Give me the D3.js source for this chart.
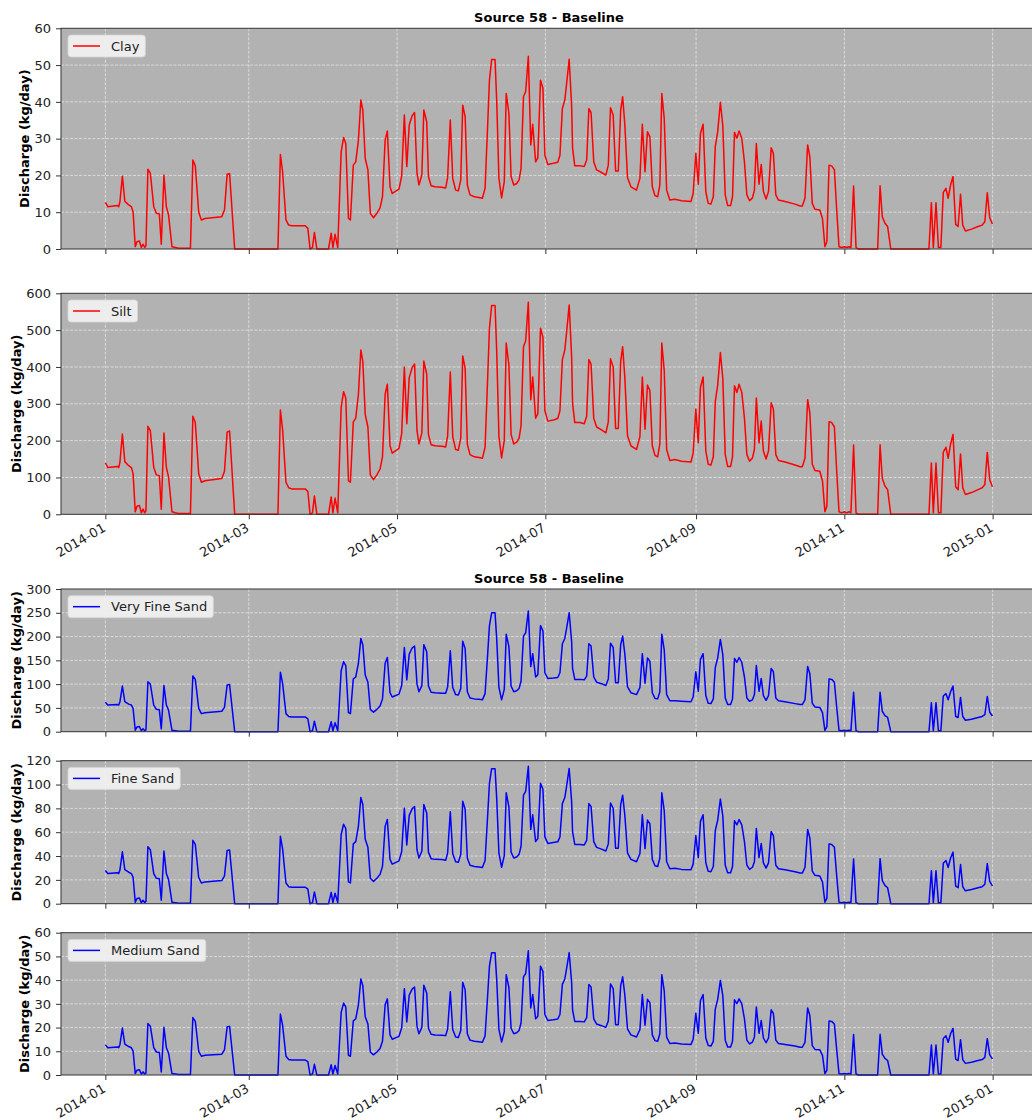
<!DOCTYPE html>
<html>
<head>
<meta charset="utf-8">
<script src="https://cdn.jsdelivr.net/npm/d3@7"></script>
<style>
  body { margin: 0; background: #fff; }
  svg { display: block; font-family: "DejaVu Sans", sans-serif; }
</style>
</head>
<body>
<div id="chart"></div>
<script>
// days since 2014-01-01 for each vertex of the series
var days = [
  0,1,5,5.5,6,7,8,9.6,10.7,11.4,
  12.3,13,14,14.8,15.5,16.2,16.7,17.5,18.5,19.9,
  21,22.2,23,24.1,25.1,26,27.4,28.8,30.1,35,
  36,37,38.4,39.5,41,47.9,49,50.1,51.1,53.2,
  71,72,72.9,74.3,75.4,76.7,82.2,83.3,84.2,85.2,
  86,87,91.8,92.9,93.6,94.5,95.6,97,98,98.9,
  100,100.8,102,103,104.1,105.1,105.9,106.9,108,109,
  110.3,111.7,113,114,115.1,116,117.1,118,120.8,121.9,
  123,124,125,126.2,127.2,128.2,129,130.2,131,132.2,
  132.9,134,135.6,138.4,140,140.8,141.9,142.9,144.1,145.2,
  146.2,147,148,148.9,150,151.8,153.7,155.1,156.2,157.1,
  158,158.9,160.3,161,161.9,163,164.1,164.9,166,166.9,
  168,169.2,170.2,171,172,172.9,174,175,175.8,177,
  177.9,179,180,180.8,182,184.3,186.1,187,188,189,
  189.7,190.8,191.8,192.2,193.1,195.2,197,198,198.9,199.8,
  200.9,202.1,204.1,205.9,206.9,207.8,208.9,209.9,211,212,
  212.8,213.7,214.8,216.2,218.5,219.9,220.9,222,223,224,
  225,226.1,227.2,228.1,228.9,229.9,230.9,232.2,234.3,237,
  240.9,241.8,242.9,243.9,244.8,245.9,247,248,249.1,250.1,
  250.9,251.9,253,254,255,256,257.2,258,258.8,259.8,
  260.7,261.8,262.9,263.9,265,266.2,267,267.8,268.9,269.8,
  270.7,271.8,272.8,273.9,274.8,275.8,276.9,279.6,283.7,285.8,
  286.7,287.8,288.9,289.8,290.8,291.9,293.9,295,296,296.8,
  297.7,298.8,299.9,300.8,301.8,302.9,304,304.9,305.9,306.7,
  307.8,308.8,309.8,317.7,318.7,319.6,320.7,321.8,323.1,338.8,
  339.8,340.6,341.7,342.7,343.7,344.7,345.8,346.7,347.7,348.7,
  349.8,350.8,351.8,352.7,353.8,356.3,359,360.7,361.8,362.8,
  363.8,364.9
];

var clay = [
  12.7,11.5,11.8,11.5,12.9,19.8,13.0,12.0,11.5,10.1,
  0.6,2.0,2.2,0.4,1.3,0.4,0.9,21.7,20.6,11.5,
  9.7,9.5,1.3,20.1,11.5,9.2,0.6,0.4,0.2,0.2,
  24.2,22.6,10.0,7.9,8.3,8.8,10.6,20.3,20.5,0,
  0,25.7,21.0,7.9,6.5,6.3,6.3,5.6,0,0.4,
  4.5,0,0,4.3,0.4,4.0,0.4,26.4,30.3,28.7,
  8.3,7.9,22.8,23.7,29.6,40.5,37.8,24.6,21.5,9.7,
  8.5,9.7,11.2,14.2,29.6,32.1,16.9,15.1,16.3,19.9,
  36.4,22.4,33.7,36.2,37.1,20.6,17.4,20.1,37.8,34.6,
  19.7,17.2,16.9,16.8,16.6,19.4,35.1,19.2,16.0,15.8,
  18.8,39.1,36.0,17.4,14.7,14.2,14.0,13.8,16.5,31.0,
  45.9,51.5,51.5,40.0,19.2,13.9,18.3,42.3,36.9,19.7,
  17.4,17.8,18.8,21.9,41.4,42.8,52.4,28.3,33.9,23.7,
  24.8,45.9,43.7,25.5,23.0,23.3,23.6,25.5,38.2,40.5,
  44.6,51.6,39.1,27.4,22.6,22.6,22.4,24.2,38.2,37.1,
  23.7,21.5,20.8,20.1,22.8,38.4,36.4,21.2,21.2,37.8,
  41.4,33.7,19.4,16.9,16.0,19.2,33.9,21.0,31.9,30.5,
  16.9,14.5,14.2,17.4,42.3,35.5,16.0,13.3,13.5,13.1,
  12.9,15.1,26.0,17.6,31.4,33.9,15.6,12.4,12.2,14.2,
  27.8,31.9,39.9,33.5,14.7,11.8,11.8,14.2,31.7,30.1,
  32.1,30.1,23.7,14.7,13.1,13.9,16.0,28.7,17.6,23.0,
  15.6,13.6,15.6,27.5,26.0,14.7,13.3,12.9,12.2,11.7,
  11.7,13.8,28.3,25.1,12.4,10.8,10.6,8.3,0.6,2.0,
  22.8,22.6,21.5,11.2,0.6,0.4,0.6,0.4,0.6,0.4,
  17.1,0.4,0,0,17.2,8.8,7.0,6.1,0,0,
  12.6,0.4,12.6,0.4,0.4,15.4,16.5,13.8,17.4,19.7,
  6.7,6.1,14.9,6.5,4.9,5.4,6.1,6.5,7.4,15.3,
  8.5,6.8
];

var silt = [
  140,127,130,127,142,218,143,132,127,111,
  7,22,24,4,14,4,10,239,227,127,
  107,105,14,221,127,101,7,4,2,2,
  266,249,110,87,91,97,117,223,226,0,
  0,283,231,87,72,69,69,62,0,4,
  50,0,0,47,4,44,4,290,333,316,
  91,87,251,261,326,446,416,271,237,107,
  94,107,123,156,326,353,186,166,179,219,
  400,246,371,398,408,227,191,221,416,381,
  217,189,186,185,183,213,386,211,176,174,
  207,430,396,191,162,156,154,152,182,341,
  505,567,567,440,211,153,201,465,406,217,
  191,196,207,241,455,471,576,311,373,261,
  273,505,481,281,253,256,260,281,420,446,
  491,568,430,301,249,249,246,266,420,408,
  261,237,229,221,251,422,400,233,233,416,
  455,371,213,186,176,211,373,231,351,336,
  186,160,156,191,465,391,176,146,149,144,
  142,166,286,194,345,373,172,136,134,156,
  306,351,439,369,162,130,130,156,349,331,
  353,331,261,162,144,153,176,316,194,253,
  172,150,172,303,286,162,146,142,134,129,
  129,152,311,276,136,119,117,91,7,22,
  251,249,237,123,7,4,7,4,7,4,
  188,4,0,0,189,97,77,67,0,0,
  139,4,139,4,4,169,182,152,191,217,
  74,67,164,72,54,59,67,72,81,168,
  94,75
];

var veryFineSand = [
  62,56,57,56,63,96,63,58,56,49,
  3,10,11,2,6,2,4,105,100,56,
  47,46,6,97,56,45,3,2,1,1,
  117,110,49,38,40,43,51,98,99,0,
  0,125,102,38,32,31,31,27,0,2,
  22,0,0,21,2,19,2,128,147,139,
  40,38,111,115,144,196,183,119,104,47,
  41,47,54,69,144,156,82,73,79,97,
  177,109,163,176,180,100,84,97,183,168,
  96,83,82,81,81,94,170,93,78,77,
  91,190,175,84,71,69,68,67,80,150,
  223,250,250,194,93,67,89,205,179,96,
  84,86,91,106,201,208,254,137,164,115,
  120,223,212,124,112,113,114,124,185,196,
  216,250,190,133,110,110,109,117,185,180,
  115,104,101,97,111,186,177,103,103,183,
  201,163,94,82,78,93,164,102,155,148,
  82,70,69,84,205,172,78,65,65,64,
  63,73,126,85,152,164,76,60,59,69,
  135,155,194,162,71,57,57,69,154,146,
  156,146,115,71,64,67,78,139,85,112,
  76,66,76,133,126,71,65,63,59,57,
  57,67,137,122,60,52,51,40,3,10,
  111,110,104,54,3,2,3,2,3,2,
  83,2,0,0,83,43,34,30,0,0,
  61,2,61,2,2,75,80,67,84,96,
  32,30,72,32,24,26,30,32,36,74,
  41,33
];

var fineSand = [
  27.9,25.3,26.0,25.3,28.4,43.6,28.6,26.4,25.3,22.2,
  1.3,4.4,4.8,0.9,2.9,0.9,2.0,47.7,45.3,25.3,
  21.3,20.9,2.9,44.2,25.3,20.2,1.3,0.9,0.4,0.4,
  53.2,49.7,22.0,17.4,18.3,19.4,23.3,44.7,45.1,0,
  0,56.5,46.2,17.4,14.3,13.9,13.9,12.3,0,0.9,
  9.9,0,0,9.5,0.9,8.8,0.9,58.1,66.7,63.1,
  18.3,17.4,50.2,52.1,65.1,89.1,83.2,54.1,47.3,21.3,
  18.7,21.3,24.6,31.2,65.1,70.6,37.2,33.2,35.9,43.8,
  80.1,49.3,74.1,79.6,81.6,45.3,38.3,44.2,83.2,76.1,
  43.3,37.8,37.2,37.0,36.5,42.7,77.2,42.2,35.2,34.8,
  41.4,86.0,79.2,38.3,32.3,31.2,30.8,30.4,36.3,68.2,
  101.0,113.3,113.3,88.0,42.2,30.6,40.3,93.1,81.2,43.3,
  38.3,39.2,41.4,48.2,91.1,94.2,115.3,62.3,74.6,52.1,
  54.6,101.0,96.1,56.1,50.6,51.3,51.9,56.1,84.0,89.1,
  98.1,113.5,86.0,60.3,49.7,49.7,49.3,53.2,84.0,81.6,
  52.1,47.3,45.8,44.2,50.2,84.5,80.1,46.6,46.6,83.2,
  91.1,74.1,42.7,37.2,35.2,42.2,74.6,46.2,70.2,67.1,
  37.2,31.9,31.2,38.3,93.1,78.1,35.2,29.3,29.7,28.8,
  28.4,33.2,57.2,38.7,69.1,74.6,34.3,27.3,26.8,31.2,
  61.2,70.2,87.8,73.7,32.3,26.0,26.0,31.2,69.7,66.2,
  70.6,66.2,52.1,32.3,28.8,30.6,35.2,63.1,38.7,50.6,
  34.3,29.9,34.3,60.5,57.2,32.3,29.3,28.4,26.8,25.7,
  25.7,30.4,62.3,55.2,27.3,23.8,23.3,18.3,1.3,4.4,
  50.2,49.7,47.3,24.6,1.3,0.9,1.3,0.9,1.3,0.9,
  37.6,0.9,0,0,37.8,19.4,15.4,13.4,0,0,
  27.7,0.9,27.7,0.9,0.9,33.9,36.3,30.4,38.3,43.3,
  14.7,13.4,32.8,14.3,10.8,11.9,13.4,14.3,16.3,33.7,
  18.7,15.0
];

var mediumSand = [
  12.7,11.5,11.8,11.5,12.9,19.8,13.0,12.0,11.5,10.1,
  0.6,2.0,2.2,0.4,1.3,0.4,0.9,21.7,20.6,11.5,
  9.7,9.5,1.3,20.1,11.5,9.2,0.6,0.4,0.2,0.2,
  24.2,22.6,10.0,7.9,8.3,8.8,10.6,20.3,20.5,0,
  0,25.7,21.0,7.9,6.5,6.3,6.3,5.6,0,0.4,
  4.5,0,0,4.3,0.4,4.0,0.4,26.4,30.3,28.7,
  8.3,7.9,22.8,23.7,29.6,40.5,37.8,24.6,21.5,9.7,
  8.5,9.7,11.2,14.2,29.6,32.1,16.9,15.1,16.3,19.9,
  36.4,22.4,33.7,36.2,37.1,20.6,17.4,20.1,37.8,34.6,
  19.7,17.2,16.9,16.8,16.6,19.4,35.1,19.2,16.0,15.8,
  18.8,39.1,36.0,17.4,14.7,14.2,14.0,13.8,16.5,31.0,
  45.9,51.5,51.5,40.0,19.2,13.9,18.3,42.3,36.9,19.7,
  17.4,17.8,18.8,21.9,41.4,42.8,52.4,28.3,33.9,23.7,
  24.8,45.9,43.7,25.5,23.0,23.3,23.6,25.5,38.2,40.5,
  44.6,51.6,39.1,27.4,22.6,22.6,22.4,24.2,38.2,37.1,
  23.7,21.5,20.8,20.1,22.8,38.4,36.4,21.2,21.2,37.8,
  41.4,33.7,19.4,16.9,16.0,19.2,33.9,21.0,31.9,30.5,
  16.9,14.5,14.2,17.4,42.3,35.5,16.0,13.3,13.5,13.1,
  12.9,15.1,26.0,17.6,31.4,33.9,15.6,12.4,12.2,14.2,
  27.8,31.9,39.9,33.5,14.7,11.8,11.8,14.2,31.7,30.1,
  32.1,30.1,23.7,14.7,13.1,13.9,16.0,28.7,17.6,23.0,
  15.6,13.6,15.6,27.5,26.0,14.7,13.3,12.9,12.2,11.7,
  11.7,13.8,28.3,25.1,12.4,10.8,10.6,8.3,0.6,2.0,
  22.8,22.6,21.5,11.2,0.6,0.4,0.6,0.4,0.6,0.4,
  17.1,0.4,0,0,17.2,8.8,7.0,6.1,0,0,
  12.6,0.4,12.6,0.4,0.4,15.4,16.5,13.8,17.4,19.7,
  6.7,6.1,14.9,6.5,4.9,5.4,6.1,6.5,7.4,15.3,
  8.5,6.8
];

var titleText = "Source 58 - Baseline";
var yLabel = "Discharge (kg/day)";

// layout of each subplot
var panels = [
  {name: "Clay",           values: clay,         color: "#ff0000", yMax: 60,  step: 10,  top: 28.3,  bottom: 249,   dates: false},
  {name: "Silt",           values: silt,         color: "#ff0000", yMax: 600, step: 100, top: 293.3, bottom: 514.3, dates: true},
  {name: "Very Fine Sand", values: veryFineSand, color: "#0000ff", yMax: 300, step: 50,  top: 589,   bottom: 731.7, dates: false},
  {name: "Fine Sand",      values: fineSand,     color: "#0000ff", yMax: 120, step: 20,  top: 760.7, bottom: 903.7, dates: false},
  {name: "Medium Sand",    values: mediumSand,   color: "#0000ff", yMax: 60,  step: 10,  top: 932.7, bottom: 1075,  dates: true}
];
var titleY = [22, 583];

panels.forEach(function(p) {
  if (p.values.length !== days.length) throw new Error(p.name + " length " + p.values.length + " vs " + days.length);
});

var W = 1032, H = 1120, left = 61, right = 1037;
var FS = 13;

var svg = d3.select("#chart").append("svg")
    .attr("width", W)
    .attr("height", H);

var t0 = Date.UTC(2014, 0, 1), DAY = 864e5;
var dates = days.map(function(d) { return new Date(t0 + d * DAY); });

var x = d3.scaleUtc()
    .domain([new Date(t0 - 18.25 * DAY), new Date(t0 + 383.25 * DAY)])
    .range([left, right]);
var xTicks = x.ticks(d3.utcMonth.every(2));

titleY.forEach(function(ty) {
  svg.append("text")
      .attr("x", (left + right) / 2)
      .attr("y", ty)
      .attr("text-anchor", "middle")
      .attr("font-size", FS)
      .attr("font-weight", "bold")
      .text(titleText);
});

panels.forEach(function(p) {
  var y = d3.scaleLinear().domain([0, p.yMax]).range([p.bottom, p.top]);
  var yTicks = d3.range(0, p.yMax + p.step / 2, p.step);
  var g = svg.append("g");

  g.append("rect")
      .attr("x", left).attr("y", p.top)
      .attr("width", right - left).attr("height", p.bottom - p.top)
      .attr("fill", "#b2b2b2");

  // grid
  g.append("g").selectAll("line").data(xTicks).join("line")
      .attr("x1", function(d) { return x(d); }).attr("x2", function(d) { return x(d); })
      .attr("y1", p.top).attr("y2", p.bottom)
      .attr("stroke", "#e4e4e4").attr("stroke-width", 0.8).attr("stroke-dasharray", "3,1.5");
  g.append("g").selectAll("line").data(yTicks.slice(1, -1)).join("line")
      .attr("x1", left).attr("x2", right)
      .attr("y1", function(d) { return y(d); }).attr("y2", function(d) { return y(d); })
      .attr("stroke", "#e4e4e4").attr("stroke-width", 0.8).attr("stroke-dasharray", "3,1.5");

  var line = d3.line()
      .x(function(d, i) { return x(dates[i]); })
      .y(function(d) { return y(d); });

  g.append("path")
      .datum(p.values)
      .attr("d", line)
      .attr("fill", "none")
      .attr("stroke", p.color)
      .attr("stroke-width", 1.5)
      .attr("stroke-linejoin", "round");

  // spines
  g.append("rect")
      .attr("x", left).attr("y", p.top)
      .attr("width", right - left).attr("height", p.bottom - p.top)
      .attr("fill", "none").attr("stroke", "#333").attr("stroke-width", 1);

  var yAxis = g.append("g")
      .attr("transform", "translate(" + left + ",0)")
      .call(d3.axisLeft(y).tickValues(yTicks).tickSize(5).tickPadding(5).tickSizeOuter(0));
  var xAxis = g.append("g")
      .attr("transform", "translate(0," + p.bottom + ")")
      .call(d3.axisBottom(x).tickValues(xTicks).tickSize(5).tickPadding(5).tickSizeOuter(0)
        .tickFormat(p.dates ? d3.utcFormat("%Y-%m") : function() { return ""; }));

  [yAxis, xAxis].forEach(function(a) {
    a.select(".domain").remove();
    a.attr("font-family", null).attr("font-size", FS);
    a.selectAll(".tick line").attr("stroke", "#333");
    a.selectAll(".tick text").attr("fill", "#222");
  });

  xAxis.selectAll(".tick text")
      .attr("y", 0)
      .attr("dy", "0.72em")
      .attr("text-anchor", "end")
      .attr("transform", "translate(-4,8) rotate(-30)");

  // y label sits just left of the widest tick label
  var maxW = d3.max(yAxis.selectAll(".tick text").nodes(), function(n) { return n.getComputedTextLength(); });
  var labelX = left - 10 - maxW - 2.5 - 7;
  g.append("text")
      .attr("transform", "translate(" + labelX + "," + (p.top + p.bottom) / 2 + ") rotate(-90)")
      .attr("text-anchor", "middle")
      .attr("dominant-baseline", "central")
      .attr("font-size", FS)
      .attr("font-weight", "bold")
      .text(yLabel);

  // legend
  var lg = g.append("g").attr("transform", "translate(" + (left + 7) + "," + (p.top + 6.7) + ")");
  var box = lg.append("rect")
      .attr("height", 22).attr("rx", 3)
      .attr("fill", "#f0f0f0").attr("fill-opacity", 0.95)
      .attr("stroke", "#d6d6d6").attr("stroke-width", 0.8);
  lg.append("line")
      .attr("x1", 5).attr("x2", 32)
      .attr("y1", 11).attr("y2", 11)
      .attr("stroke", p.color).attr("stroke-width", 1.5);
  var lt = lg.append("text")
      .attr("x", 43).attr("y", 15.5)
      .attr("font-size", FS)
      .attr("fill", "#222")
      .text(p.name);
  box.attr("width", 43 + lt.node().getComputedTextLength() + 6);
});
</script>
</body>
</html>
